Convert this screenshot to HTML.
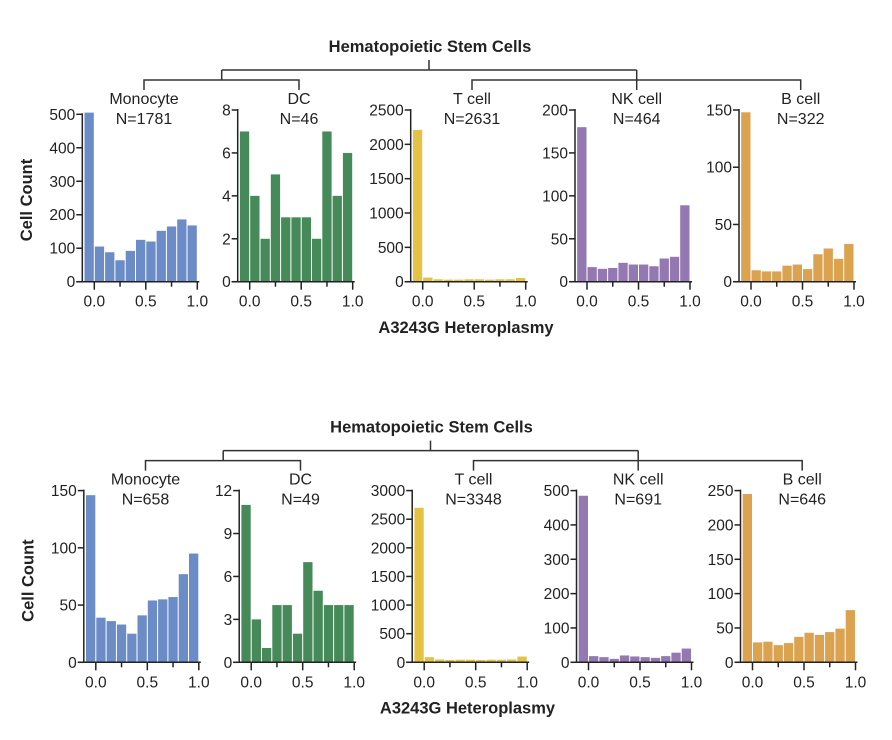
<!DOCTYPE html>
<html><head><meta charset="utf-8"><style>
html,body{margin:0;padding:0;background:#fff;}
svg{display:block;font-family:"Liberation Sans",sans-serif;}
</style></head><body>
<svg id="chart" width="892" height="740" viewBox="0 0 892 740"></svg>
<script>
const cellTypes = ["Monocyte","DC","T cell","NK cell","B cell"];
const colors = ["#6b8cc7","#478a5a","#e3c245","#9478b2","#dba24f"];
const topCounts = ["N=1781","N=46","N=2631","N=464","N=322"];
const botCounts = ["N=658","N=49","N=3348","N=691","N=646"];
const topMonocyte = [505,105,88,64,92,125,120,152,165,186,168];
const topDC = [7,4,2,5,3,3,3,2,7,4,6];
const topT = [2210,60,35,30,30,35,35,30,35,35,55];
const topNK = [180,17,15,16,22,20,20,18,27,29,89];
const topB = [148,10,9,9,14,15,11,24,29,20,33];
const botMonocyte = [146,39,36,33,25,41,54,55,57,77,95];
const botDC = [11,3,1,4,4,2,7,5,4,4,4];
const botT = [2700,90,50,40,45,45,40,45,45,50,100];
const botNK = [485,18,15,10,20,17,15,13,18,28,40];
const botB = [245,29,30,25,28,37,43,40,44,49,76];
const topYTicks = [[0,100,200,300,400,500],[0,2,4,6,8],[0,500,1000,1500,2000,2500],[0,50,100,150,200],[0,50,100,150]];
const botYTicks = [[0,50,100,150],[0,3,6,9,12],[0,500,1000,1500,2000,2500,3000],[0,100,200,300,400,500],[0,50,100,150,200,250]];
const binStarts = [-0.1,0,0.1,0.2,0.3,0.4,0.5,0.6,0.7,0.8,0.9];
const xTickLabels = ["0.0","0.5","1.0"];

const svg = document.getElementById('chart');
const NS = "http://www.w3.org/2000/svg";
function mk(tag, attrs, parent){
  const e = document.createElementNS(NS, tag);
  for (const k in attrs) e.setAttribute(k, attrs[k]);
  (parent||svg).appendChild(e); return e;
}
function txt(s, x, y, size, anchor, weight, parent){
  const t = mk('text', {x:x, y:y, 'font-size':size, 'text-anchor':anchor||'middle', 'font-weight':weight||'normal', fill:'#222'}, parent);
  t.textContent = s; return t;
}

const x0sTop = [94.3,249.7,422.7,587,751];
const pxPerUnit = 103;

function drawRow(dy, dx, datas, yTicks, counts, rowName){
  const g = mk('g', {});
  
  
  const tree = mk('g', {stroke:'#333','stroke-width':1.5, fill:'none'}, g);
  
  
  const cx = [144,299,472,636.7,800.7].map(v=>v+dx);
  mk('path',{d:`M${429+dx},${60+dy}V${70+dy}M${221.7+dx},${70+dy}H${636.7+dx}M${221.7+dx},${70+dy}V${80+dy}M${cx[0]},${90+dy}V${80+dy}H${cx[1]}V${90+dy}M${cx[2]},${90+dy}V${80+dy}H${cx[4]}V${90+dy}M${cx[3]},${70+dy}V${90+dy}`}, tree);
  const title = txt("Hematopoietic Stem Cells", 430+dx, 52+dy, 16.5, 'middle', 'bold', g);
  
  
  const y0 = 281.7+dy;
  for (let p=0;p<5;p++){
    const pg = mk('g', {}, g);
    
    
    const x0 = x0sTop[p]+dx;
    const ticks = yTicks[p];
    const yMax = ticks[ticks.length-1];
    const top = (p===0 && dy===0) ? 114.3+dy : 110+dy;
    const ys = v => y0 - v/yMax*(y0-top);
    const xs = v => x0 + v*pxPerUnit;
    const data = datas[p];
    data.forEach((v,i)=>{
      const r = mk('rect',{x:xs(binStarts[i])+0.5, y:ys(v), width:pxPerUnit*0.1-1, height:y0-ys(v), fill:colors[p]}, pg);
      
      
    });
    const ax = x0 - 12;
    const axes = mk('g',{stroke:'#222','stroke-width':1.5}, pg);
    
    
    mk('line',{x1:ax,y1:y0,x2:ax,y2:ys(yMax)-1}, axes);
    mk('line',{x1:ax-6,y1:y0,x2:xs(1.0)+2,y2:y0}, axes);
    ticks.forEach(t=>{
      mk('line',{x1:ax-6,y1:ys(t),x2:ax,y2:ys(t)}, axes);
      const l = txt(String(t), ax-7, ys(t)+5.5, 15.5, 'end', 'normal', pg);
      
      
    });
    [0,0.25,0.5,0.75,1.0].forEach(t=>{
      const major = (t===0||t===0.5||t===1.0);
      mk('line',{x1:xs(t),y1:y0,x2:xs(t),y2:y0+(major?8:5)}, axes);
    });
    xTickLabels.forEach((s,i)=>{
      const l = txt(s, xs(i*0.5), y0+25, 15.5, 'middle', 'normal', pg);
      
      
    });
    const n1 = txt(cellTypes[p], cx[p], 104+dy, 16, 'middle', 'normal', pg);
    
    
    const n2 = txt(counts[p], cx[p], 124+dy, 16, 'middle', 'normal', pg);
    
    
  }
  const yl = txt("Cell Count", 0, 0, 16.5, 'middle', 'bold', g);
  yl.setAttribute('transform', `translate(${32+dx},${200+dy}) rotate(-90)`);
  
  
  const xl = txt("A3243G Heteroplasmy", 466+dx, 333+dy, 16.5, 'middle', 'bold', g);
  
  
}
drawRow(0, 0, [topMonocyte,topDC,topT,topNK,topB], topYTicks, topCounts, 'top-row');
drawRow(380.6, 1.5, [botMonocyte,botDC,botT,botNK,botB], botYTicks, botCounts, 'bottom-row');
</script>
</body></html>
